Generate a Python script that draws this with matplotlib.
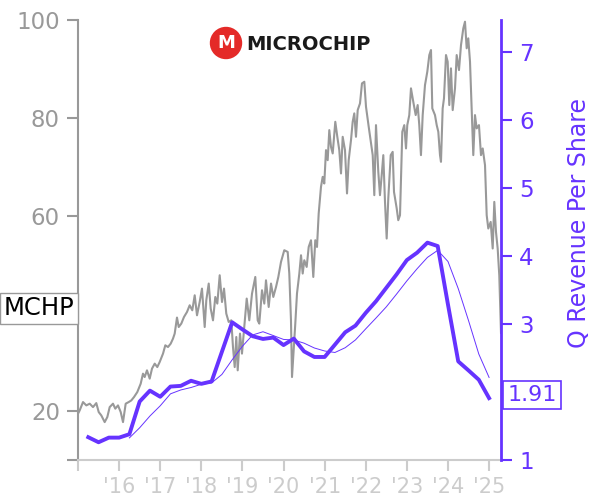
import matplotlib
matplotlib.use('Agg')
import matplotlib.pyplot as plt
from matplotlib.patches import Ellipse

# quarterly revenue per share, first quarter at 2015.25
rev_start = 2015.25
rev = [1.335, 1.261, 1.329, 1.329, 1.379, 1.86, 2.02, 1.93, 2.08, 2.09,
       2.165, 2.12, 2.155, 2.59, 3.025, 2.92, 2.82, 2.78, 2.80, 2.69,
       2.785, 2.597, 2.515, 2.515, 2.696, 2.878, 2.976, 3.164, 3.335, 3.532,
       3.729, 3.94, 4.049, 4.196, 4.146, 3.286, 2.45, 2.317, 2.18, 1.91]
# trailing 4 quarter average, shown from the 5th quarter on
rev_avg = [1.325, 1.474, 1.647, 1.797, 1.973, 2.03, 2.066, 2.114, 2.133, 2.258,
           2.473, 2.673, 2.839, 2.886, 2.83, 2.773, 2.764, 2.718, 2.647, 2.603,
           2.581, 2.651, 2.766, 2.929, 3.088, 3.252, 3.44, 3.634, 3.813, 3.979,
           4.083, 3.919, 3.52, 3.05, 2.558, 2.214]

# share price: (year, price)
px_data = [
    (2015.000, 19.47), (2015.041, 20.15), (2015.122, 21.85), (2015.202, 21.17),
    (2015.285, 21.52), (2015.365, 20.82), (2015.445, 21.64), (2015.504, 19.80),
    (2015.567, 19.12), (2015.649, 17.75), (2015.713, 18.78), (2015.771, 20.82),
    (2015.851, 21.52), (2015.907, 20.50), (2015.973, 21.17), (2016.039, 19.80),
    (2016.095, 17.75), (2016.160, 21.52), (2016.233, 21.85), (2016.297, 22.19),
    (2016.362, 22.87), (2016.442, 23.89), (2016.525, 25.61), (2016.581, 27.66),
    (2016.622, 26.97), (2016.678, 28.34), (2016.744, 26.64), (2016.800, 28.69),
    (2016.866, 29.71), (2016.929, 29.01), (2016.987, 30.04), (2017.068, 31.76),
    (2017.124, 33.46), (2017.189, 33.11), (2017.255, 33.80), (2017.311, 34.83),
    (2017.352, 35.85), (2017.408, 39.13), (2017.450, 37.20), (2017.513, 37.90),
    (2017.578, 39.25), (2017.651, 40.27), (2017.717, 41.65), (2017.780, 40.62),
    (2017.839, 43.69), (2017.895, 39.60), (2017.960, 42.32), (2018.016, 45.06),
    (2018.082, 37.20), (2018.121, 42.67), (2018.180, 46.09), (2018.228, 40.97),
    (2018.284, 38.57), (2018.340, 43.35), (2018.389, 41.99), (2018.447, 47.79),
    (2018.503, 42.32), (2018.552, 45.06), (2018.607, 39.95), (2018.666, 38.23),
    (2018.729, 38.57), (2018.770, 33.11), (2018.812, 29.01), (2018.851, 35.16),
    (2018.885, 28.34), (2018.941, 35.85), (2018.989, 31.76), (2019.045, 37.20),
    (2019.104, 43.02), (2019.167, 38.57), (2019.233, 44.04), (2019.313, 47.44),
    (2019.371, 38.57), (2019.410, 37.90), (2019.476, 44.72), (2019.532, 41.99),
    (2019.573, 46.76), (2019.639, 41.30), (2019.695, 46.09), (2019.751, 43.35),
    (2019.817, 45.39), (2019.873, 47.44), (2019.938, 50.51), (2020.018, 52.91),
    (2020.101, 52.56), (2020.140, 48.14), (2020.181, 38.57), (2020.206, 26.97),
    (2020.247, 32.43), (2020.286, 37.90), (2020.327, 44.04), (2020.384, 48.14),
    (2020.425, 51.88), (2020.466, 48.14), (2020.505, 50.86), (2020.563, 49.49),
    (2020.612, 53.58), (2020.668, 54.95), (2020.724, 47.44), (2020.772, 54.95),
    (2020.814, 53.58), (2020.855, 60.42), (2020.911, 65.87), (2020.952, 67.92),
    (2020.991, 66.56), (2021.033, 73.38), (2021.074, 71.33), (2021.113, 77.48),
    (2021.154, 74.06), (2021.196, 72.71), (2021.259, 79.18), (2021.308, 76.11),
    (2021.356, 73.38), (2021.398, 68.61), (2021.439, 76.11), (2021.495, 73.38),
    (2021.544, 64.52), (2021.585, 71.33), (2021.641, 75.43), (2021.682, 79.18),
    (2021.721, 80.90), (2021.762, 76.11), (2021.804, 81.57), (2021.860, 82.94),
    (2021.908, 87.04), (2021.965, 87.37), (2022.006, 82.25), (2022.072, 78.15),
    (2022.169, 72.36), (2022.208, 64.17), (2022.249, 78.50), (2022.305, 68.94),
    (2022.346, 64.17), (2022.388, 68.26), (2022.427, 72.36), (2022.468, 62.80),
    (2022.509, 55.30), (2022.548, 63.49), (2022.607, 72.36), (2022.655, 73.03),
    (2022.687, 64.84), (2022.753, 61.45), (2022.791, 59.05), (2022.833, 60.07),
    (2022.889, 77.13), (2022.937, 78.50), (2022.979, 73.73), (2023.010, 78.50),
    (2023.059, 80.55), (2023.100, 86.02), (2023.156, 83.27), (2023.215, 80.55),
    (2023.263, 82.60), (2023.302, 78.50), (2023.343, 72.36), (2023.385, 80.55),
    (2023.441, 86.69), (2023.497, 89.41), (2023.546, 92.83), (2023.587, 93.86),
    (2023.619, 81.92), (2023.684, 80.55), (2023.726, 78.50), (2023.765, 77.13),
    (2023.806, 72.36), (2023.830, 70.99), (2023.871, 81.92), (2023.903, 83.97),
    (2023.952, 92.83), (2023.993, 91.46), (2024.032, 82.60), (2024.073, 90.11),
    (2024.115, 81.57), (2024.171, 86.02), (2024.212, 92.83), (2024.268, 89.76),
    (2024.317, 94.88), (2024.373, 98.30), (2024.414, 99.65), (2024.455, 94.21),
    (2024.494, 96.25), (2024.536, 91.46), (2024.577, 81.92), (2024.616, 72.36),
    (2024.657, 80.55), (2024.698, 77.83), (2024.754, 78.50), (2024.803, 72.36),
    (2024.845, 73.73), (2024.901, 70.31), (2024.942, 60.07), (2024.981, 57.35),
    (2025.039, 58.70), (2025.088, 53.26), (2025.127, 62.80), (2025.168, 56.65),
    (2025.209, 53.26), (2025.248, 47.79), (2025.275, 40.50), (2025.290, 36.00),
]
px_year = [d[0] for d in px_data]
px = [d[1] for d in px_data]

years = list(range(2015, 2026))
year_labels = [''] + ["'%02d" % (y - 2000) for y in years[1:]]
ticker = 'MCHP'
last_rev = '1.91'

purple = '#6633ff'
gray = '#999999'
light = '#cccccc'

fig, ax = plt.subplots(figsize=(6, 5), dpi=100)
fig.subplots_adjust(left=0.13, right=0.835, bottom=0.08, top=0.96)
ax2 = ax.twinx()

ax.plot(px_year, px, color=gray, lw=1.5)

rev_x = [rev_start + 0.25 * i for i in range(len(rev))]
ax2.plot(rev_x, rev, color=purple, lw=2.8, solid_joinstyle='round')
ax2.plot(rev_x[4:], rev_avg, color=purple, lw=0.7)

ax.set_xlim(2015.0, 2025.29)
ax.set_ylim(10, 100)
ax2.set_ylim(1, 7.47)

ax.set_xticks(years)
ax.set_xticklabels(year_labels)
ax.set_yticks([10, 20, 40, 60, 80, 100])
ax.set_yticklabels(['', '20', '', '60', '80', '100'])
ax2.set_yticks([1, 3, 4, 5, 6, 7])

ax.tick_params(axis='x', colors=light, labelcolor=light, labelsize=15, length=8, width=1.5, pad=4)
ax.tick_params(axis='y', colors=gray, labelcolor=gray, labelsize=16.5, length=8, width=1.5, pad=5)
ax2.tick_params(axis='y', colors=purple, labelcolor=purple, labelsize=16.5, length=8, width=1.5, pad=5)

for a in (ax, ax2):
    a.spines['top'].set_visible(False)
ax.spines['right'].set_visible(False)
ax2.spines['left'].set_visible(False)
ax2.spines['bottom'].set_visible(False)
ax.spines['left'].set_color(gray)
ax.spines['left'].set_linewidth(1.5)
ax.spines['bottom'].set_color(light)
ax.spines['bottom'].set_linewidth(1.5)
ax2.spines['right'].set_color(purple)
ax2.spines['right'].set_linewidth(2)

ax2.set_ylabel('Q Revenue Per Share', color=purple, fontsize=17)
ax2.yaxis.set_label_coords(1.155, 0.5375)

# ticker box on the left axis
ax.text(-0.008, 41.0, ticker, transform=ax.get_yaxis_transform(), ha='right', va='center',
        fontsize=17.5, color='black',
        bbox=dict(boxstyle='square,pad=0.15', fc='white', ec=gray, lw=1))
# last revenue value box on the right axis
ax2.text(1.015, 1.963, last_rev, transform=ax2.get_yaxis_transform(), ha='left', va='center',
         fontsize=16, color=purple,
         bbox=dict(boxstyle='square,pad=0.18', fc='white', ec=purple, lw=1.2))

# logo
fig.add_artist(Ellipse((226 / 600, 1 - 43 / 500), 31 / 600, 31 / 500,
                       transform=fig.transFigure, color='#e42a28'))
fig.text(226 / 600, 1 - 43 / 500, 'M', color='white', fontsize=13, fontweight='bold',
         ha='center', va='center')
fig.text(246 / 600, 1 - 44 / 500, 'MICROCHIP', color='#1a1a1a', fontsize=14,
         fontweight='bold', ha='left', va='center')

fig.savefig('out.png', dpi=100)
